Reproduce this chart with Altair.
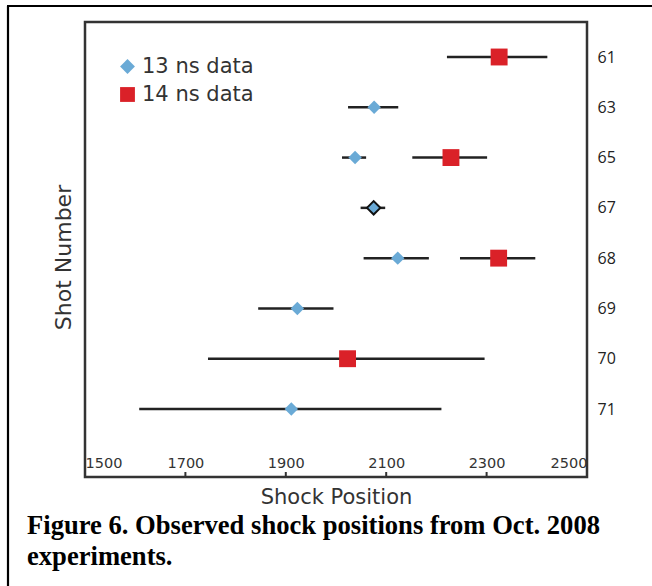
import altair as alt
import pandas as pd

# ---------------- data ----------------
shot_order = ["61", "63", "65", "67", "68", "69", "70", "71"]
x_ticks = [1500, 1700, 1900, 2100, 2300, 2500]
inner_ticks = [1700, 1900, 2100, 2300]

series_13 = "13 ns data"
shots_13 = ["63", "65", "67", "68", "69", "71"]
pos_13 = [2076, 2038, 2075, 2123, 1923, 1911]
low_13 = [2024, 2012, 2049, 2055, 1845, 1608]
high_13 = [2124, 2060, 2098, 2185, 1995, 2210]

series_14 = "14 ns data"
shots_14 = ["61", "65", "68", "70"]
pos_14 = [2325, 2229, 2324, 2023]
low_14 = [2221, 2152, 2247, 1745]
high_14 = [2421, 2301, 2397, 2296]

outlined_shots = ["67"]  # 13 ns point drawn with a dark outline

caption = ["Figure 6. Observed shock positions from Oct. 2008", "experiments."]

# ---------------- build table ----------------
rows = []
for s, p, lo, hi in zip(shots_13, pos_13, low_13, high_13):
    rows.append(dict(series=series_13, shot=s, pos=p, low=lo, high=hi,
                     outlined=s in outlined_shots))
for s, p, lo, hi in zip(shots_14, pos_14, low_14, high_14):
    rows.append(dict(series=series_14, shot=s, pos=p, low=lo, high=hi,
                     outlined=False))
df = pd.DataFrame(rows)

series_domain = [series_13, series_14]
BLUE = "#6aaad6"
RED = "#da2128"
INK = "#222222"

x_scale = alt.Scale(domain=[1500, 2500], nice=False, zero=False)
y_scale = alt.Scale(type="point", domain=shot_order, range=[35, 387],
                    padding=0)

base = alt.Chart(df)

bars = base.mark_rule(color=INK, strokeWidth=2.5).encode(
    x=alt.X("low:Q", scale=x_scale,
            axis=alt.Axis(values=x_ticks, format="d", labelFlush=True,
                          ticks=False, tickSize=0, domain=False, grid=False,
                          labelPadding=-14, labelBaseline="middle",
                          labelFont="DejaVu Sans", labelFontSize=14.5,
                          labelColor="#333",
                          title="Shock Position", titleFont="DejaVu Sans",
                          titleFontSize=21, titleFontWeight="normal",
                          titleColor="#333", titleBaseline="alphabetic",
                          titleY=26)),
    x2="high:Q",
    y=alt.Y("shot:O", scale=y_scale, sort=shot_order,
            axis=alt.Axis(orient="right", title=None, ticks=False,
                          domain=False, grid=False, labelFont="Open Sans",
                          labelFontSize=16, labelColor="#222",
                          labelPadding=10)),
)

legend_kw = dict(orient="none", legendX=32, legendY=34, padding=0,
                 title=None, labelFont="DejaVu Sans", labelFontSize=21,
                 labelColor="#333", symbolSize=220, rowPadding=6,
                 labelOffset=4, symbolStrokeWidth=0)

color_enc = alt.Color("series:N",
                      scale=alt.Scale(domain=series_domain,
                                      range=[BLUE, RED]),
                      legend=alt.Legend(**legend_kw))
shape_enc = alt.Shape("series:N",
                      scale=alt.Scale(domain=series_domain,
                                      range=["diamond", "square"]),
                      legend=alt.Legend(**legend_kw))

points_13 = base.transform_filter(
    alt.datum.series == series_13
).mark_point(filled=True, opacity=1, size=180, stroke="#111").encode(
    x=alt.X("pos:Q", scale=x_scale),
    y=alt.Y("shot:O", scale=y_scale, sort=shot_order,
            axis=alt.Axis(orient="left", title="Shot Number", labels=False,
                          ticks=False, domain=False, grid=False,
                          titleFont="DejaVu Sans", titleFontSize=22,
                          titleFontWeight="normal", titleColor="#333",
                          titleBaseline="alphabetic", titleX=-15,
                          titleY=235)),
    color=color_enc,
    shape=shape_enc,
    strokeWidth=alt.condition("datum.outlined", alt.value(2), alt.value(0)),
)

points_14 = base.transform_filter(
    alt.datum.series == series_14
).mark_point(filled=True, opacity=1, size=285, strokeWidth=0).encode(
    x=alt.X("pos:Q", scale=x_scale),
    y=alt.Y("shot:O", scale=y_scale, sort=shot_order, axis=None),
    color=color_enc,
    shape=shape_enc,
)

ticks = alt.Chart(pd.DataFrame({"t": inner_ticks})).mark_rule(
    color="#333", strokeWidth=2
).encode(
    x=alt.X("t:Q", scale=x_scale),
    y=alt.value(450),
    y2=alt.value(455),
)

one = alt.Data(values=[{"k": 0}])
frame_left = alt.Chart(one).mark_rule(color="#000", strokeWidth=2.2).encode(
    x=alt.value(-77), y=alt.value(-16), y2=alt.value(620)
)
frame_top = alt.Chart(one).mark_rule(color="#000", strokeWidth=2.2).encode(
    x=alt.value(-78), x2=alt.value(620), y=alt.value(-16)
)

caption_text = alt.Chart(one).mark_text(
    align="left", baseline="alphabetic", font="Liberation Serif",
    fontSize=26.6, fontWeight="bold", color="#000", lineHeight=31
).encode(
    x=alt.value(-58), y=alt.value(512), text=alt.value(caption)
)

chart = alt.layer(bars, points_13, points_14, ticks, frame_left, frame_top,
                  caption_text).resolve_axis(
    y="independent"
).properties(
    width=502,
    height=455,
    autosize=alt.AutoSizeParams(type="none"),
    padding={"left": 85, "top": 22, "right": 65, "bottom": 109},
    background="white",
).configure_view(
    stroke="#333", strokeWidth=2.5
)

chart.save("out.html", embed_options={"renderer": "svg", "actions": False})
